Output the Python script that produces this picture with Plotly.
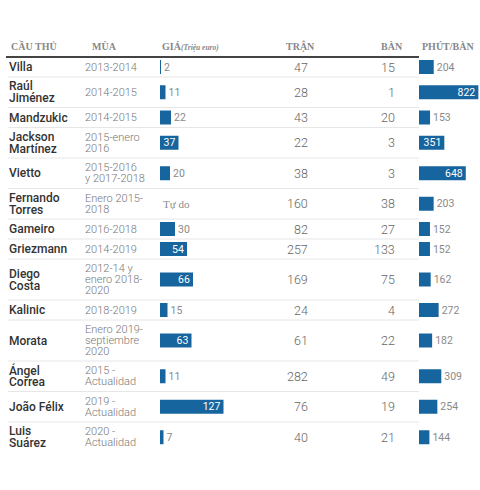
import plotly.graph_objects as go

# ---------------- data ----------------
players = ["Villa", "Raúl<br>Jiménez", "Mandzukic", "Jackson<br>Martínez", "Vietto",
           "Fernando<br>Torres", "Gameiro", "Griezmann", "Diego<br>Costa", "Kalinic",
           "Morata", "Ángel<br>Correa", "João Félix", "Luis<br>Suárez"]
seasons = ["2013-2014", "2014-2015", "2014-2015", "2015-enero<br>2016",
           "2015-2016<br>y 2017-2018", "Enero 2015-<br>2018", "2016-2018", "2014-2019",
           "2012-14 y<br>enero 2018-<br>2020", "2018-2019",
           "Enero 2019-<br>septiembre<br>2020", "2015 -<br>Actualidad",
           "2019 -<br>Actualidad", "2020 -<br>Actualidad"]
price = [2, 11, 22, 37, 20, None, 30, 54, 66, 15, 63, 11, 127, 7]
price_free_label = "Tự do"
matches = [47, 28, 43, 22, 38, 160, 82, 257, 169, 24, 61, 282, 76, 40]
goals = [15, 1, 20, 3, 3, 38, 27, 133, 75, 4, 22, 49, 19, 21]
min_per_goal = [204, 822, 153, 351, 648, 203, 152, 152, 162, 272, 182, 309, 254, 144]

hdr_player = "CẦU THỦ"
hdr_season = "MÙA"
hdr_price = "GIÁ"
hdr_price_unit = "(Triệu euro)"
hdr_matches = "TRẬN"
hdr_goals = "BÀN"
hdr_mpg = "PHÚT/BÀN"

# ---------------- styles ----------------
W, H = 480, 490
BLUE = "#17659e"
SANS = "Roboto"
SERIF = "Liberation Serif"
NAME_C = "#333333"
SEASON_C = "#777777"
NUM_C = "#666666"
LBL_C = "#8a8a8a"
HDR_C = "#888888"
NAME_SP = 12
SEASON_SP = 11
ROW_H = {1: 20, 2: 30.5, 3: 41}
TOP = 57

def px(x):
    return x / W

# row layout computed from number of text lines
centers, bounds = [], []
y = TOP
for p, s in zip(players, seasons):
    n = max(len(p.split("<br>")), len(s.split("<br>")))
    h = ROW_H[n]
    centers.append(y + h / 2)
    y += h
    bounds.append(y)

fig = go.Figure()

# price bars
p_inside = [v is not None and v >= 35 for v in price]
fig.add_trace(go.Bar(
    y=centers, x=price, orientation="h", xaxis="x", yaxis="y",
    marker=dict(color=BLUE, line=dict(width=0)), width=14,
    text=[("" if v is None else str(v)) for v in price],
    textposition=["inside" if i else "outside" for i in p_inside],
    insidetextanchor="end", textangle=0,
    textfont=dict(family=SANS, size=10.5, color=["white" if i else LBL_C for i in p_inside]),
    constraintext="none", cliponaxis=False, hoverinfo="skip",
))

# minutes per goal bars
m_inside = [v >= 340 for v in min_per_goal]
fig.add_trace(go.Bar(
    y=centers, x=min_per_goal, orientation="h", xaxis="x2", yaxis="y",
    marker=dict(color=BLUE, line=dict(width=0)), width=14,
    text=[str(v) for v in min_per_goal],
    textposition=["inside" if i else "outside" for i in m_inside],
    insidetextanchor="end", textangle=0,
    textfont=dict(family=SANS, size=10.5, color=["white" if i else LBL_C for i in m_inside]),
    constraintext="none", cliponaxis=False, hoverinfo="skip",
))

ann = []

def multiline(text, x, yc, font, sp):
    lines = text.split("<br>")
    n = len(lines)
    for i, ln in enumerate(lines):
        ann.append(dict(text=ln, x=x, xref="paper", y=yc + (i - (n - 1) / 2) * sp,
                        yref="y", xanchor="left", yanchor="middle", showarrow=False,
                        borderpad=0, font=font))

name_font = dict(family=SANS, size=12, color=NAME_C, weight=500)
season_font = dict(family=SANS, size=11, color=SEASON_C, weight=300)
num_font = dict(family=SANS, size=12.5, color=NUM_C, weight=300)

for i, yc in enumerate(centers):
    multiline(players[i], px(8), yc, name_font, NAME_SP)
    multiline(seasons[i], px(84), yc, season_font, SEASON_SP)
    ann.append(dict(text=str(matches[i]), x=px(310), xref="paper", y=yc, yref="y",
                    xanchor="right", yanchor="middle", showarrow=False, font=num_font))
    ann.append(dict(text=str(goals[i]), x=px(397), xref="paper", y=yc, yref="y",
                    xanchor="right", yanchor="middle", showarrow=False, font=num_font))
    if price[i] is None:
        ann.append(dict(text=price_free_label, x=0, xref="x", y=yc, yref="y",
                        xanchor="left", yanchor="middle", showarrow=False, xshift=1,
                        font=dict(family=SERIF, size=11, color=LBL_C)))

hdr_font = dict(family=SERIF, size=10, color=HDR_C, weight="bold")
HY = 46
ann += [
    dict(text=hdr_player, x=px(9), xref="paper", y=HY, yref="y", xanchor="left",
         yanchor="middle", showarrow=False, font=hdr_font),
    dict(text=hdr_season, x=px(90), xref="paper", y=HY, yref="y", xanchor="left",
         yanchor="middle", showarrow=False, font=hdr_font),
    dict(text=hdr_price + "<i><span style='font-size:7.5px'>" + hdr_price_unit + "</span></i>",
         x=px(160), xref="paper", y=HY, yref="y", xanchor="left",
         yanchor="middle", showarrow=False, font=hdr_font),
    dict(text=hdr_matches, x=px(300), xref="paper", y=HY, yref="y", xanchor="center",
         yanchor="middle", showarrow=False, font=hdr_font),
    dict(text=hdr_goals, x=px(392), xref="paper", y=HY, yref="y", xanchor="center",
         yanchor="middle", showarrow=False, font=hdr_font),
    dict(text=hdr_mpg, x=px(448), xref="paper", y=HY, yref="y", xanchor="center",
         yanchor="middle", showarrow=False, font=hdr_font),
]

shapes = [dict(type="line", xref="paper", yref="y", x0=px(6), x1=1, y0=TOP, y1=TOP,
               line=dict(color="#444444", width=2), layer="below")]
for b in bounds[:-1]:
    shapes.append(dict(type="line", xref="paper", yref="y", x0=px(8), x1=1, y0=b, y1=b,
                       line=dict(color="#e6e6e6", width=1), layer="below"))

fig.update_layout(
    width=W, height=H, margin=dict(l=0, r=0, t=0, b=0),
    paper_bgcolor="white", plot_bgcolor="white", showlegend=False,
    xaxis=dict(domain=[px(160), 1], range=[0, 640], visible=False, fixedrange=True),
    xaxis2=dict(domain=[px(419), 1], range=[0, 845], visible=False, fixedrange=True,
                anchor="y"),
    yaxis=dict(domain=[0, 1], range=[H, 0], visible=False, fixedrange=True),
    annotations=ann, shapes=shapes, barmode="overlay",
)

fig.write_html("out.html", config={"displayModeBar": False},
               post_script="document.body.style.margin='0';document.body.style.overflow='hidden';")
